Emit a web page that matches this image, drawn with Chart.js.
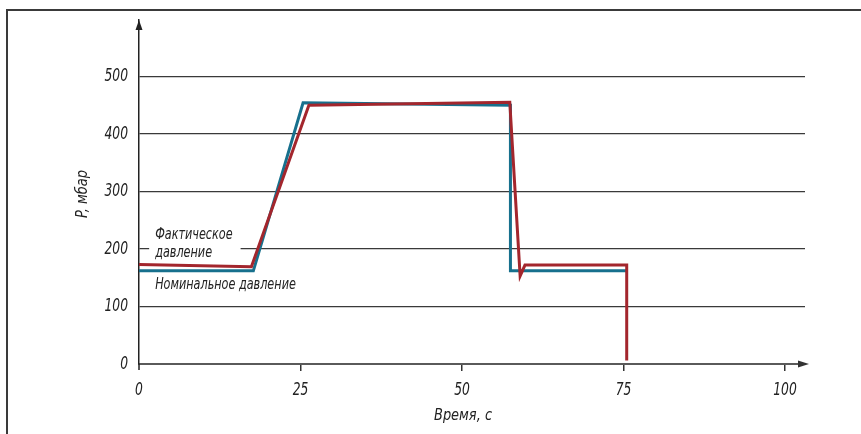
<!DOCTYPE html>
<html>
<head>
<meta charset="utf-8">
<script src="https://cdn.jsdelivr.net/npm/chart.js@4/dist/chart.umd.min.js"></script>
<style>
  html, body { margin: 0; padding: 0; background: #fff; }
  #wrap { width: 861px; height: 434px; }
</style>
</head>
<body>
<div id="wrap"><canvas id="chart" width="861" height="434"></canvas></div>
<script>
// Data (seconds, mbar)
const actualX = [0, 17.4, 26.3, 57.4, 59.0, 59.75, 75.5, 75.5];
const actualY = [173, 169, 450, 455, 153, 172, 172, 6];
const nominalX = [0, 17.7, 25.4, 57.5, 57.5, 75.4];
const nominalY = [162, 162, 454, 450, 162, 162];

const xTicks = [0, 25, 50, 75, 100];
const yTicks = [0, 100, 200, 300, 400, 500];

const labelActual = ['Фактическое', 'давление'];
const labelNominal = 'Номинальное давление';
const xTitle = 'Время, с';
const yTitle = 'P, мбар';

const FONT = '"DejaVu Sans Condensed", "Liberation Sans", sans-serif';
const BLUE = '#17708d';
const RED = '#a3262d';

function toPoints(xs, ys) {
    return xs.map((x, i) => ({ x: x, y: ys[i] }));
}

// condensed italic text (the original uses a narrow face)
function narrowText(ctx, text, x, y, align, size, sx) {
    ctx.save();
    ctx.font = 'italic ' + size + 'px ' + FONT;
    ctx.textAlign = align;
    ctx.textBaseline = 'middle';
    ctx.translate(x, y);
    ctx.scale(sx, 1);
    ctx.fillText(text, 0, 0);
    ctx.restore();
}

// Frame, arrows, tick labels and text notes
const decor = {
    id: 'decor',
    beforeDraw(chart) {
        const ctx = chart.ctx;
        ctx.save();
        ctx.strokeStyle = '#3a3a3a';
        ctx.lineWidth = 2;
        ctx.beginPath();
        ctx.moveTo(861, 10);
        ctx.lineTo(7, 10);
        ctx.lineTo(7, 434);
        ctx.stroke();
        ctx.restore();
    },
    afterDatasetsDraw(chart) {
        const ctx = chart.ctx;
        const area = chart.chartArea;
        const x = chart.scales.x;
        const y = chart.scales.y;
        ctx.save();

        // arrows
        ctx.fillStyle = '#222';
        ctx.beginPath();
        ctx.moveTo(area.left, area.top);
        ctx.lineTo(area.left - 3.5, area.top + 10);
        ctx.lineTo(area.left + 3.5, area.top + 10);
        ctx.closePath();
        ctx.fill();

        ctx.strokeStyle = '#5a5a5a';
        ctx.lineWidth = 2;
        ctx.beginPath();
        ctx.moveTo(area.right, area.bottom);
        ctx.lineTo(area.right - 6, area.bottom);
        ctx.stroke();
        ctx.fillStyle = '#333';
        ctx.beginPath();
        ctx.moveTo(area.right + 4, area.bottom);
        ctx.lineTo(area.right - 7, area.bottom - 3.5);
        ctx.lineTo(area.right - 7, area.bottom + 3.5);
        ctx.closePath();
        ctx.fill();

        // y axis runs a little below zero
        ctx.strokeStyle = '#222';
        ctx.lineWidth = 1.5;
        ctx.beginPath();
        ctx.moveTo(area.left, area.bottom);
        ctx.lineTo(area.left, area.bottom + 6);
        ctx.stroke();

        ctx.fillStyle = '#222';

        // tick labels
        yTicks.forEach(v => narrowText(ctx, String(v), area.left - 11, y.getPixelForValue(v), 'right', 18, 0.76));
        xTicks.forEach(v => narrowText(ctx, String(v), x.getPixelForValue(v), 390, 'center', 18, 0.76));

        // notes
        const nx = x.getPixelForValue(2.5);
        const a1 = y.getPixelForValue(224);
        const a2 = y.getPixelForValue(194);
        ctx.font = 'italic 16px ' + FONT;
        const w = ctx.measureText(labelActual[0]).width * 0.78;
        ctx.fillStyle = '#fff';
        ctx.fillRect(nx - 6, a1 - 9, w + 14, a2 - a1 + 16);
        ctx.fillStyle = '#222';
        narrowText(ctx, labelActual[0], nx, a1, 'left', 16, 0.78);
        narrowText(ctx, labelActual[1], nx, a2, 'left', 16, 0.78);
        narrowText(ctx, labelNominal, nx, y.getPixelForValue(138), 'left', 16, 0.78);

        // axis titles
        narrowText(ctx, xTitle, 463, 416, 'center', 16, 0.9);
        ctx.translate(83, (area.top + area.bottom) / 2 + 2);
        ctx.rotate(-Math.PI / 2);
        narrowText(ctx, yTitle, 0, 0, 'center', 16, 0.9);
        ctx.restore();
    }
};

const ctx = document.getElementById('chart').getContext('2d');
const chart = new Chart(ctx, {
    type: 'line',
    data: {
        datasets: [
            {
                label: 'Фактическое давление',
                data: toPoints(actualX, actualY),
                borderColor: RED,
                borderWidth: 3,
                pointRadius: 0,
                tension: 0,
                fill: false
            },
            {
                label: 'Номинальное давление',
                data: toPoints(nominalX, nominalY),
                borderColor: BLUE,
                borderWidth: 3,
                pointRadius: 0,
                tension: 0,
                fill: false
            }
        ]
    },
    options: {
        responsive: false,
        animation: false,
        events: [],
        layout: { padding: { left: 0, right: 56, top: 20, bottom: 0 } },
        plugins: {
            legend: { display: false },
            tooltip: { enabled: false }
        },
        scales: {
            x: {
                type: 'linear',
                min: 0,
                max: 103.1,
                afterFit: (s) => { s.height = 70; },
                afterBuildTicks: (s) => { s.ticks = xTicks.map(v => ({ value: v })); },
                border: { display: true, color: '#5a5a5a', width: 2 },
                grid: {
                    drawOnChartArea: false,
                    drawTicks: true,
                    tickLength: 7,
                    color: '#333',
                    lineWidth: (c) => c.tick && c.tick.value === 0 ? 0 : 1.5
                },
                ticks: { display: false }
            },
            y: {
                type: 'linear',
                min: 0,
                max: 598,
                afterFit: (s) => { s.width = 139; },
                afterBuildTicks: (s) => { s.ticks = yTicks.map(v => ({ value: v })); },
                border: { display: true, color: '#222', width: 1.5 },
                grid: {
                    drawTicks: false,
                    color: '#3a3a3a',
                    lineWidth: (c) => c.tick && c.tick.value === 0 ? 0 : 1.2
                },
                ticks: { display: false }
            }
        }
    },
    plugins: [decor]
});
</script>
</body>
</html>
